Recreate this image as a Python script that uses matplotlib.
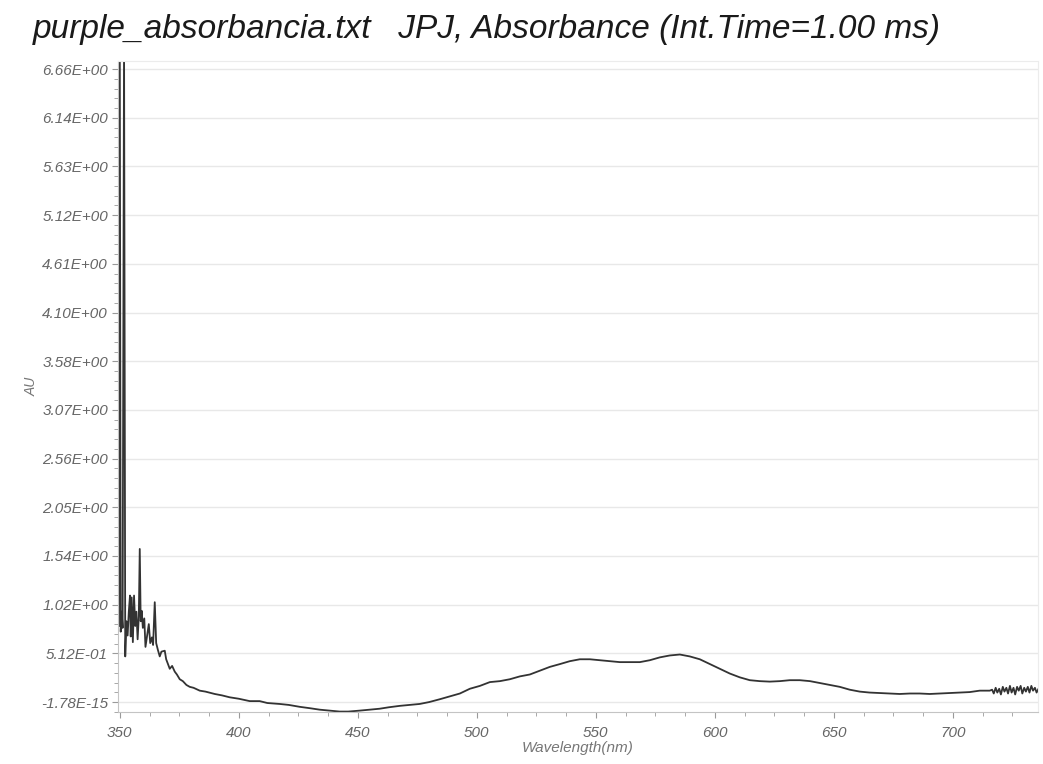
import matplotlib.pyplot as plt
from matplotlib.ticker import MultipleLocator, AutoMinorLocator, FixedLocator

plt.rcParams["font.family"] = ["Liberation Sans", "DejaVu Sans"]

# spectrum (nm, AU)
wavelength = [
    349.6, 350.0, 350.4, 350.8, 351.2, 351.8, 352.3, 352.8, 353.3, 353.8,
    354.3, 354.6, 355.0, 355.5, 356.0, 356.5, 357.0, 357.5, 358.0, 358.4,
    358.8, 359.2, 359.7, 360.3, 360.8, 361.5, 362.2, 362.8, 363.5, 364.0,
    364.7, 365.3, 366.0, 366.8, 367.5, 368.9, 369.5, 371.0, 372.0, 373.1,
    374.0, 375.2, 376.5, 378.0, 379.4, 381.0, 383.6, 386.0, 389.9, 393.0,
    396.2, 400.0, 404.6, 408.8, 412.0, 417.2, 421.0, 425.6, 430.0, 434.0,
    438.0, 442.4, 446.0, 450.8, 455.0, 459.2, 463.0, 467.6, 472.0, 476.0,
    480.0, 484.5, 488.7, 492.9, 497.1, 501.3, 505.5, 509.7, 513.9, 518.1,
    522.3, 526.5, 530.7, 535.0, 539.1, 543.3, 547.5, 551.7, 556.0, 560.1,
    564.3, 568.5, 572.7, 576.9, 581.1, 585.3, 589.5, 593.7, 597.9, 602.1,
    606.3, 610.5, 614.7, 618.9, 623.1, 627.3, 631.5, 635.7, 640.0, 644.1,
    648.3, 652.5, 656.7, 660.9, 665.0, 669.3, 673.5, 677.7, 682.0, 686.1,
    690.3, 694.5, 698.7, 702.9, 707.1, 711.3, 715.5, 716.5, 717.2, 718.0,
    718.7, 719.5, 720.2, 721.0, 721.7, 722.5, 723.2, 724.0, 724.7, 725.5,
    726.2, 727.0, 727.7, 728.5, 729.2, 730.0, 730.7, 731.5, 732.2, 733.0,
    733.7, 734.5, 735.2, 736.0,
]
absorbance = [
    0.80, 7.00, 0.74, 0.95, 0.78, 7.00, 0.48, 0.85, 0.70, 0.95,
    1.12, 0.69, 1.10, 0.63, 1.12, 0.80, 0.95, 0.66, 0.90, 1.61,
    0.85, 0.96, 0.78, 0.88, 0.58, 0.70, 0.82, 0.62, 0.68, 0.60,
    1.05, 0.62, 0.55, 0.48, 0.53, 0.54, 0.45, 0.35, 0.38, 0.32,
    0.29, 0.24, 0.22, 0.18, 0.16, 0.15, 0.12, 0.11, 0.085, 0.07,
    0.05, 0.035, 0.01, 0.01, -0.01, -0.02, -0.03, -0.05, -0.065, -0.08,
    -0.09, -0.10, -0.10, -0.09, -0.08, -0.07, -0.055, -0.04, -0.03, -0.02,
    0.0, 0.03, 0.06, 0.09, 0.14, 0.17, 0.21, 0.22, 0.24, 0.27,
    0.29, 0.33, 0.37, 0.40, 0.43, 0.45, 0.45, 0.44, 0.43, 0.42,
    0.42, 0.42, 0.44, 0.47, 0.49, 0.50, 0.48, 0.45, 0.40, 0.35,
    0.30, 0.26, 0.23, 0.22, 0.215, 0.22, 0.23, 0.23, 0.22, 0.20,
    0.18, 0.16, 0.13, 0.11, 0.10, 0.095, 0.09, 0.085, 0.09, 0.09,
    0.085, 0.09, 0.095, 0.10, 0.105, 0.12, 0.12, 0.13, 0.09, 0.15,
    0.10, 0.14, 0.08, 0.16, 0.11, 0.15, 0.09, 0.17, 0.10, 0.15,
    0.08, 0.16, 0.12, 0.17, 0.09, 0.15, 0.11, 0.16, 0.10, 0.17,
    0.12, 0.15, 0.10, 0.14,
]

ytick_values = [k * 0.512 for k in range(14)]
ytick_labels = ["-1.78E-15", "5.12E-01"] + ["%.2E" % v for v in ytick_values[2:]]

fig = plt.figure(figsize=(10.43, 7.64), dpi=100)
ax = fig.add_axes([0.113, 0.068, 0.882, 0.852])

ax.plot(wavelength, absorbance, color="#333333", linewidth=1.3)

ax.set_xlim(349.2, 735.7)
ax.set_ylim(-0.105, 6.74)

ax.xaxis.set_major_locator(MultipleLocator(50))
ax.xaxis.set_minor_locator(MultipleLocator(12.5))
ax.yaxis.set_major_locator(FixedLocator(ytick_values))
ax.set_yticklabels(ytick_labels)
ax.yaxis.set_minor_locator(AutoMinorLocator(5))

ax.grid(axis="y", color="#e8e8e8", linewidth=1.0)
ax.set_axisbelow(True)

for side in ["top", "right"]:
    ax.spines[side].set_color("#ececec")
for side in ["left", "bottom"]:
    ax.spines[side].set_color("#c4c4c4")

ax.tick_params(axis="both", which="both", colors="#9a9a9a", direction="out")
ax.tick_params(axis="both", which="major", length=4, labelcolor="#666666")
ax.tick_params(axis="both", which="minor", length=3)
ax.tick_params(axis="x", labelsize=11, pad=6)
ax.tick_params(axis="y", labelsize=11, pad=3)
for lab in ax.get_xticklabels() + ax.get_yticklabels():
    lab.set_fontstyle("italic")

ax.set_xlabel("Wavelength(nm)", fontsize=11, fontstyle="italic", color="#777777",
              labelpad=1)
ax.set_ylabel("AU", fontsize=10, fontstyle="italic", color="#777777", labelpad=2)

fig.text(0.031, 0.961, "purple_absorbancia.txt   JPJ, Absorbance (Int.Time=1.00 ms)",
         fontsize=24, fontstyle="italic", color="#1a1a1a", va="center", ha="left")

fig.savefig("out.png", dpi=100)
